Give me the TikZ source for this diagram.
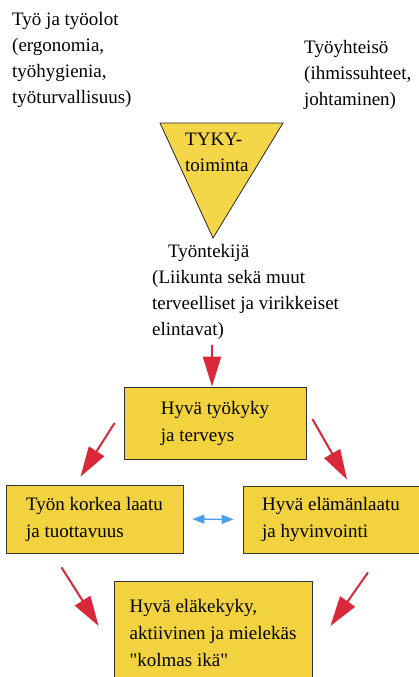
\documentclass[tikz,border=0pt]{standalone}
\usepackage{fontspec}
\setmainfont{Liberation Serif}
\usetikzlibrary{arrows.meta}
\definecolor{boxyellow}{RGB}{242,210,62}
\definecolor{triyellow}{RGB}{244,214,72}
\definecolor{arrowred}{RGB}{216,40,58}
\definecolor{arrowblue}{RGB}{74,160,232}
\begin{document}
\begin{tikzpicture}[x=1pt,y=-1pt,
		txt/.style={font=\fontsize{19}{26}\selectfont,align=left,inner sep=0pt},
		goalbox/.style={draw=black!80,line width=0.8pt,fill=boxyellow,
			font=\fontsize{19}{27}\selectfont,align=left,inner sep=0pt},
		redarrow/.style={draw=arrowred,line width=2pt,
			-{Triangle[length=30pt,width=18pt]}},
		bluearrow/.style={draw=arrowblue,line width=1.4pt,
			{Triangle[length=12pt,width=9pt]}-{Triangle[length=12pt,width=9pt]}}]
	\useasboundingbox (0,0) rectangle (419,677);
	\clip (0,0) rectangle (419,677); % the lowest box runs off the page
	
	% the three sources of working ability
	\node[txt,anchor=north west] (conditions) at (12,12)
		{Työ ja työolot\\(ergonomia,\\työhygienia,\\työturvallisuus)};
	\node[txt,anchor=north west] (community) at (304,40)
		{Työyhteisö\\(ihmissuhteet,\\johtaminen)};
	
	\coordinate (TriLeft)  at (160,123);
	\coordinate (TriRight) at (283,123);
	\coordinate (TriTip)   at (213,238);
	\filldraw[fill=triyellow,draw=black!85,line width=0.8pt]
		(TriLeft) -- (TriRight) -- (TriTip) -- cycle;
	\node[txt,anchor=north west] (tyky) at (185,133) {TYKY-\\toiminta};
	
	\node[txt,anchor=north west] (worker) at (152,244)
		{\hspace*{16pt}Työntekijä\\(Liikunta sekä muut\\terveelliset ja virikkeiset\\elintavat)};
	
	% the boxes
	\node[goalbox,minimum width=182pt,minimum height=72pt] (health) at (215,423)
		{Hyvä työkyky\\ja terveys};
	\node[goalbox,minimum width=177pt,minimum height=68pt] (quality) at (94.5,519)
		{Työn korkea laatu\\ja tuottavuus};
	\node[goalbox,minimum width=176pt,minimum height=67pt] (life) at (331,519.5)
		{Hyvä elämänlaatu\\ja hyvinvointi};
	\node[goalbox,minimum width=198pt,minimum height=104pt] (retire) at (213,633)
		{Hyvä eläkekyky,\\aktiivinen ja mielekäs\\\textquotedbl kolmas ikä\textquotedbl};
	
	% arrows
	\draw[redarrow] ([yshift=-5pt]worker.south -| 212,0) -- (212,0 |- health.north);
	\draw[redarrow] ([xshift=-9pt]health.west) -- ([xshift=-14pt,yshift=8pt]quality.north);
	\draw[redarrow] ([xshift=6pt,yshift=4pt]health.east) -- ([xshift=16pt,yshift=6pt]life.north);
	\draw[redarrow] ([xshift=-33pt,yshift=-14pt]quality.south) -- ([xshift=-15pt,yshift=7pt]retire.west);
	\draw[redarrow] ([xshift=37pt,yshift=-19pt]life.south) -- ([xshift=18pt,yshift=7pt]retire.east);
	\draw[bluearrow,shorten <=9pt,shorten >=9pt] (quality.east) -- (life.west);
\end{tikzpicture}
\end{document}
